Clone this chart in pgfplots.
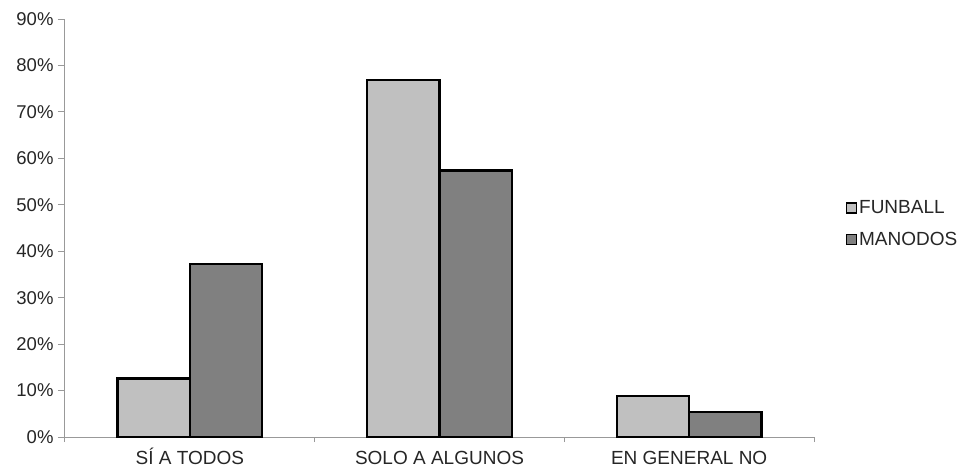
\documentclass[border=0pt]{standalone}
\usepackage{fontspec}
\setmainfont{Liberation Sans}
\usepackage{pgfplots}
\pgfplotsset{compat=1.18}
\definecolor{funball}{HTML}{C0C0C0}
\definecolor{manodos}{HTML}{808080}
\definecolor{axisgray}{HTML}{999999}
\begin{document}
\begin{tikzpicture}
\path[use as bounding box] (-65pt,-38pt) rectangle (901pt,437pt);
\begin{axis}[
  at={(0pt,0pt)}, anchor=south west,
  scale only axis, width=749pt, height=418pt,
  ybar=0pt, bar width=0.29,
  xmin=-0.5, xmax=2.5, ymin=0, ymax=90,
  axis x line*=bottom, axis y line*=left,
  axis line style={axisgray, line width=1pt},
  every tick/.style={axisgray, line width=1pt},
  tick align=outside,
  xtick={0,1,2},
  xticklabels={SÍ A TODOS, SOLO A ALGUNOS, EN GENERAL NO},
  major x tick style={draw=none},
  minor xtick={-0.5,0.5,1.5,2.5},
  minor tick length=5pt,
  major tick length=7pt,
  ytick={0,10,...,90},
  yticklabels={0\%,10\%,20\%,30\%,40\%,50\%,60\%,70\%,80\%,90\%},
  yticklabel style={font=\fontsize{18.5}{21}\selectfont, color=black!85, xshift=-1pt},
  xticklabel style={font=\fontsize{19}{22}\selectfont, color=black!85, yshift=-2pt,
    text height=15pt, text depth=3pt},
  legend style={at={(1.042,0.51)}, anchor=west, draw=none, fill=none,
    font=\fontsize{19}{22}\selectfont, text=black!85, row sep=13pt, inner sep=0pt},
  legend cell align=left,
  legend image code/.code={\draw[#1, draw=black, line width=1.5pt] (0pt,-5pt) rectangle (10pt,5pt);},
]
\addplot[fill=funball, draw=black, line width=2.2pt] coordinates {(0,12.6) (1,76.8) (2,8.8)};
\addplot[fill=manodos, draw=black, line width=2.2pt] coordinates {(0,37.3) (1,57.4) (2,5.3)};
\legend{FUNBALL, MANODOS}
\end{axis}
\end{tikzpicture}
\end{document}
